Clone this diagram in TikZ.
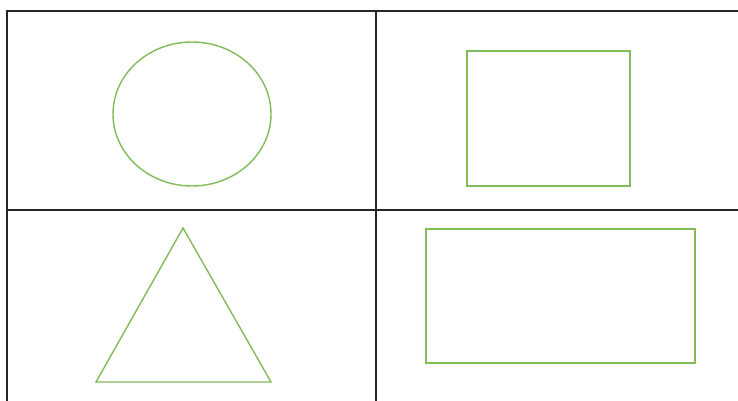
\documentclass[tikz,border=0pt]{standalone}
\definecolor{shapegreen}{RGB}{128,188,88}
\begin{document}
\begin{tikzpicture}[x=1pt,y=-1pt,
  gridline/.style={draw=black!85, line width=1.6pt},
  shapeline/.style={draw=shapegreen, line width=1.4pt}]
\useasboundingbox[fill=white] (0,0) rectangle (738,401);
% grid
\coordinate (tl) at (7,11);
\coordinate (tr) at (738,11);
\coordinate (bl) at (7,401);
\coordinate (mt) at (376,11);
\coordinate (mb) at (376,401);
\coordinate (ml) at (7,210);
\coordinate (mr) at (738,210);
\draw[gridline] (bl) -- (tl) -- (tr);
\draw[gridline] (mt) -- (mb);
\draw[gridline] (ml) -- (mr);
% shapes
\draw[shapeline] (192,114) ellipse [x radius=79, y radius=72];
\draw[shapeline] (467,51) rectangle (630,186);
\draw[shapeline] (183,228) -- (96,382) -- (271,382) -- cycle;
\draw[shapeline] (426,229) rectangle (695,363);
\end{tikzpicture}
\end{document}
